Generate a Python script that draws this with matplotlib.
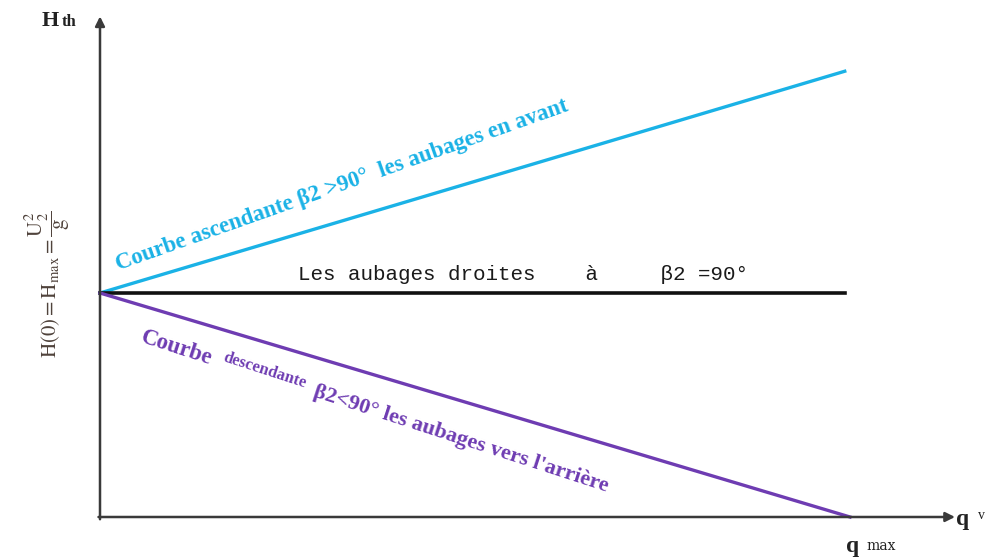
import matplotlib.pyplot as plt

# characteristic curves H_th(q_v), H(0) = 1, q_max = 1
q_forward = [0.0, 0.993]
H_forward = [1.0, 1.99]
q_radial = [0.0, 0.993]
H_radial = [1.0, 1.0]
q_backward = [0.0, 1.0]
H_backward = [1.0, 0.0]

plt.rcParams['mathtext.fontset'] = 'stix'
serif = 'Liberation Serif'
cyan = '#1ab2e6'
purple = '#6e3cb2'
axis_col = '#3a3a3a'

fig = plt.figure(figsize=(9.99, 5.57), dpi=100)
ax = fig.add_axes([100 / 999, 40 / 557, 860 / 999, 502 / 557])
ax.set_xlim(0, 860 / 750)
ax.set_ylim(0, 502 / 224)
ax.axis('off')

# axes arrows
arrow = dict(arrowstyle='-|>', color=axis_col, lw=1.8, mutation_scale=14,
             shrinkA=0, shrinkB=0)
ax.annotate('', xy=(1.14, 0), xytext=(-0.002, 0), arrowprops=arrow,
            annotation_clip=False)
ax.annotate('', xy=(0, 2.235), xytext=(0, -0.01), arrowprops=arrow,
            annotation_clip=False)

# curves
ax.plot(q_forward, H_forward, color=cyan, lw=2.4, clip_on=False)
ax.plot(q_radial, H_radial, color='#111111', lw=2.6, clip_on=False)
ax.plot(q_backward, H_backward, color=purple, lw=2.4, clip_on=False)

# axis labels
ax.text(-0.078, 2.19, 'H', fontsize=16, fontweight='bold', family=serif,
        ha='left', va='baseline', color='#222222')
ax.text(-0.051, 2.19, 'th', fontsize=12, fontweight='bold', family=serif,
        ha='left', va='baseline', color='#222222')
ax.text(1.142, -0.01, 'q', fontsize=17, fontweight='bold', family=serif,
        ha='left', va='center', color='#222222')
ax.text(1.17, 0.005, 'v', fontsize=10, family=serif,
        ha='left', va='center', color='#222222')
ax.text(0.995, -0.13, 'q', fontsize=17, fontweight='bold', family=serif,
        ha='left', va='center', color='#222222', clip_on=False)
ax.text(1.022, -0.13, 'max', fontsize=10, family='DejaVu Serif',
        ha='left', va='center', color='#222222', clip_on=False)

ax.text(-0.07, 1.04,
        r'$\mathrm{H(0) = H_{max} = }\dfrac{\mathrm{U_2^2}}{\mathrm{g}}$',
        fontsize=15, rotation=90, ha='center', va='center', color='#4f423b')

# curve annotations
ax.text(0.264, 1.058, 'Les aubages droites    à     β2 =90°',
        fontsize=15, family='Liberation Mono', ha='left', va='baseline',
        color='#1a1a1a')

ax.text(0.024, 1.10, 'Courbe ascendante β2 >90°  les aubages en avant',
        fontsize=16.5, fontweight='bold', family=serif, color=cyan,
        rotation=19.5, rotation_mode='anchor', ha='left', va='baseline')

ax.text(0.053, 0.78, 'Courbe', fontsize=16.5, fontweight='bold', family=serif,
        color=purple, rotation=-18, rotation_mode='anchor',
        ha='left', va='baseline')
ax.text(0.163, 0.695, 'descendante', fontsize=12, fontweight='bold',
        family=serif, color=purple, rotation=-18, rotation_mode='anchor',
        ha='left', va='baseline')
ax.text(0.283, 0.54, "β2<90° les aubages vers l'arrière", fontsize=16,
        fontweight='bold', family=serif, color=purple, rotation=-18,
        rotation_mode='anchor', ha='left', va='baseline')

fig.savefig('out.png', dpi=100)
